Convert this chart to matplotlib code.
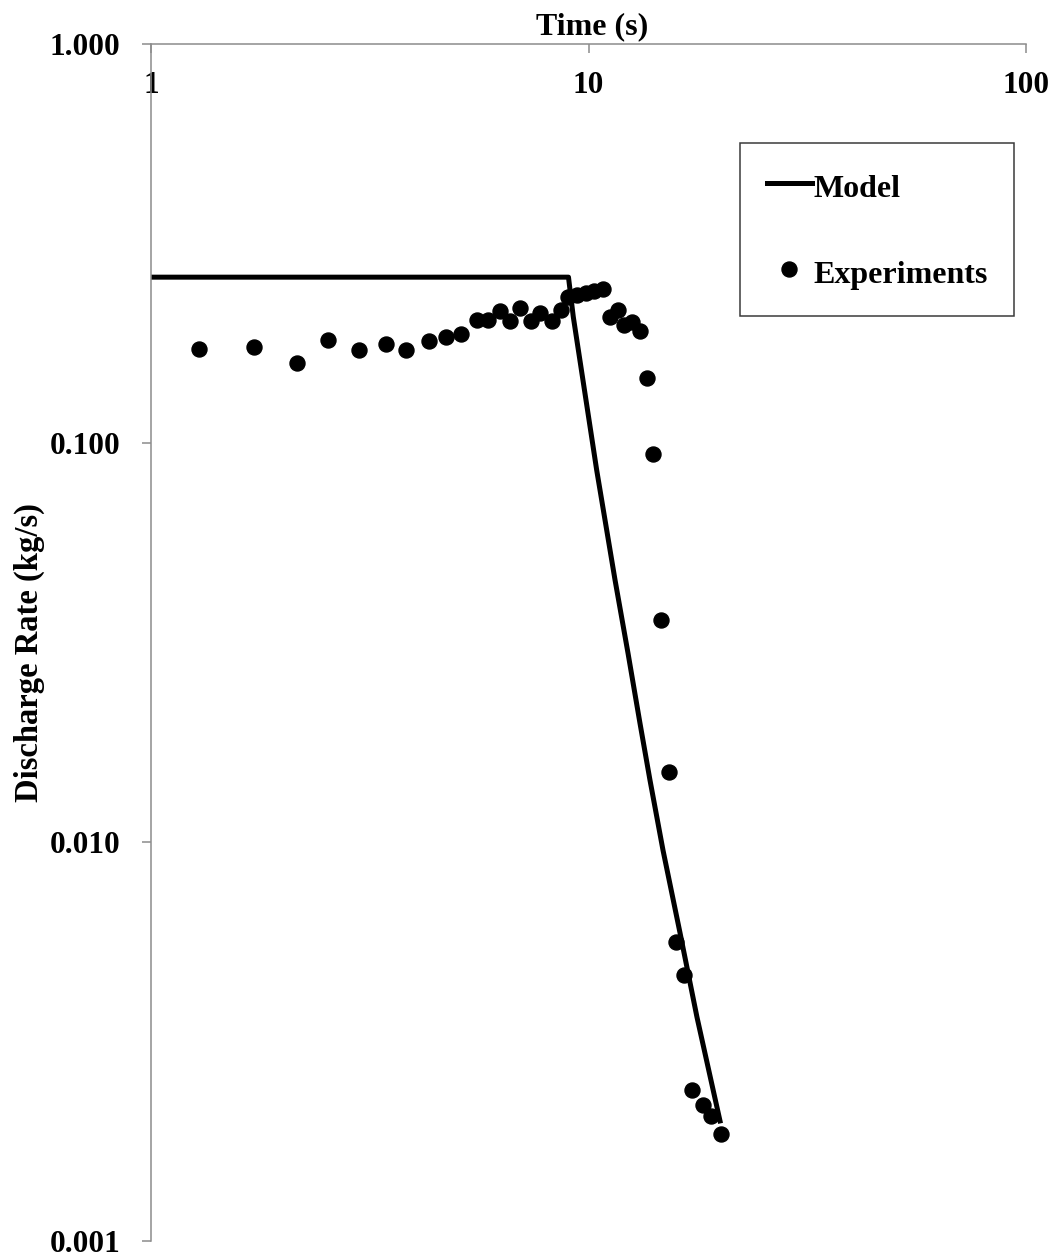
import matplotlib
matplotlib.use("Agg")
import matplotlib.pyplot as plt
from matplotlib.ticker import FixedLocator, FixedFormatter, NullLocator

# Model prediction of the discharge rate
model_time = [1.0, 9.0, 9.23, 10.44, 11.50, 12.31, 13.11, 13.82, 14.80, 16.19, 17.70, 19.98]
model_rate = [0.261, 0.261, 0.2077, 0.0857, 0.0454, 0.0298, 0.01989, 0.01431, 0.00955,
              0.00592, 0.00364, 0.00200]

# Measured discharge rate
exp_time = [1.29, 1.72, 2.16, 2.54, 2.99, 3.44, 3.82, 4.31, 4.72, 5.12,
            5.57, 5.88, 6.28, 6.62, 6.97, 7.38, 7.75, 8.24, 8.64, 8.98,
            9.41, 9.87, 10.29, 10.79, 11.20, 11.68, 12.05, 12.57, 13.08, 13.61,
            14.07, 14.62, 15.28, 15.85, 16.49, 17.21, 18.24, 19.05, 20.09]
exp_rate = [0.172, 0.174, 0.159, 0.182, 0.171, 0.177, 0.171, 0.181, 0.185, 0.188,
            0.204, 0.204, 0.215, 0.203, 0.218, 0.203, 0.212, 0.203, 0.216, 0.233,
            0.235, 0.238, 0.241, 0.244, 0.207, 0.216, 0.198, 0.201, 0.191, 0.1455,
            0.0940, 0.0360, 0.0150, 0.00563, 0.00464, 0.00239, 0.00219, 0.00206, 0.00186]

x_ticks = [1, 10, 100]
x_tick_labels = ["1", "10", "100"]
y_ticks = [0.001, 0.01, 0.1, 1.0]
y_tick_labels = ["0.001", "0.010", "0.100", "1.000"]

FONT = "Liberation Serif"
plt.rcParams["font.family"] = FONT
plt.rcParams["font.weight"] = "bold"

W, H = 1059, 1257
fig = plt.figure(figsize=(W / 100, H / 100), dpi=100)
ax = fig.add_axes([151 / W, 1 - 1241 / H, 875 / W, (1241 - 44.5) / H])

ax.plot(model_time, model_rate, color="black", lw=3.6, solid_joinstyle="round",
        label="Model", zorder=2)
ax.plot(exp_time, exp_rate, linestyle="none", marker="o", ms=10.8, color="black",
        label="Experiments", zorder=3)

ax.set_xscale("log")
ax.set_yscale("log")
ax.set_xlim(1, 100)
ax.set_ylim(0.001, 1.0)

spine_color = "#8c8c8c"
for side in ("right", "bottom"):
    ax.spines[side].set_visible(False)
for side in ("top", "left"):
    ax.spines[side].set_color(spine_color)
    ax.spines[side].set_linewidth(1.1)

ax.xaxis.set_major_locator(FixedLocator(x_ticks))
ax.xaxis.set_major_formatter(FixedFormatter(x_tick_labels))
ax.xaxis.set_minor_locator(NullLocator())
ax.yaxis.set_major_locator(FixedLocator(y_ticks))
ax.yaxis.set_major_formatter(FixedFormatter(y_tick_labels))
ax.yaxis.set_minor_locator(NullLocator())

ax.xaxis.tick_top()
ax.xaxis.set_label_position("top")
ax.tick_params(axis="x", which="major", direction="in", length=6.5, width=1.1,
               color=spine_color, labelsize=22.5, pad=-40, top=True, bottom=False,
               labeltop=True, labelbottom=False)
ax.tick_params(axis="y", which="major", direction="out", length=6.5, width=1.1,
               color=spine_color, labelsize=22.5, pad=15.5)
for lbl in ax.get_xticklabels() + ax.get_yticklabels():
    lbl.set_fontweight("bold")

ax.set_xlabel("Time (s)", fontsize=23, fontweight="bold")
ax.set_ylabel("Discharge Rate (kg/s)", fontsize=23.5, fontweight="bold")
ax.xaxis.set_label_coords(0.504, 1.0085)
ax.yaxis.set_label_coords(-0.121, 0.492)

leg = ax.legend(loc="upper left", bbox_to_anchor=(740 / W, 1 - 143 / H),
                bbox_transform=fig.transFigure, borderaxespad=0,
                prop={"family": FONT, "weight": "bold", "size": 23},
                frameon=True, fancybox=False, framealpha=1, handlelength=1.4,
                handleheight=1.15, handletextpad=0.05, labelspacing=1.64,
                borderpad=0.84)
leg.get_frame().set_edgecolor("#3a3a3a")
leg.get_frame().set_linewidth(1.1)

fig.savefig("out.png", dpi=100)
